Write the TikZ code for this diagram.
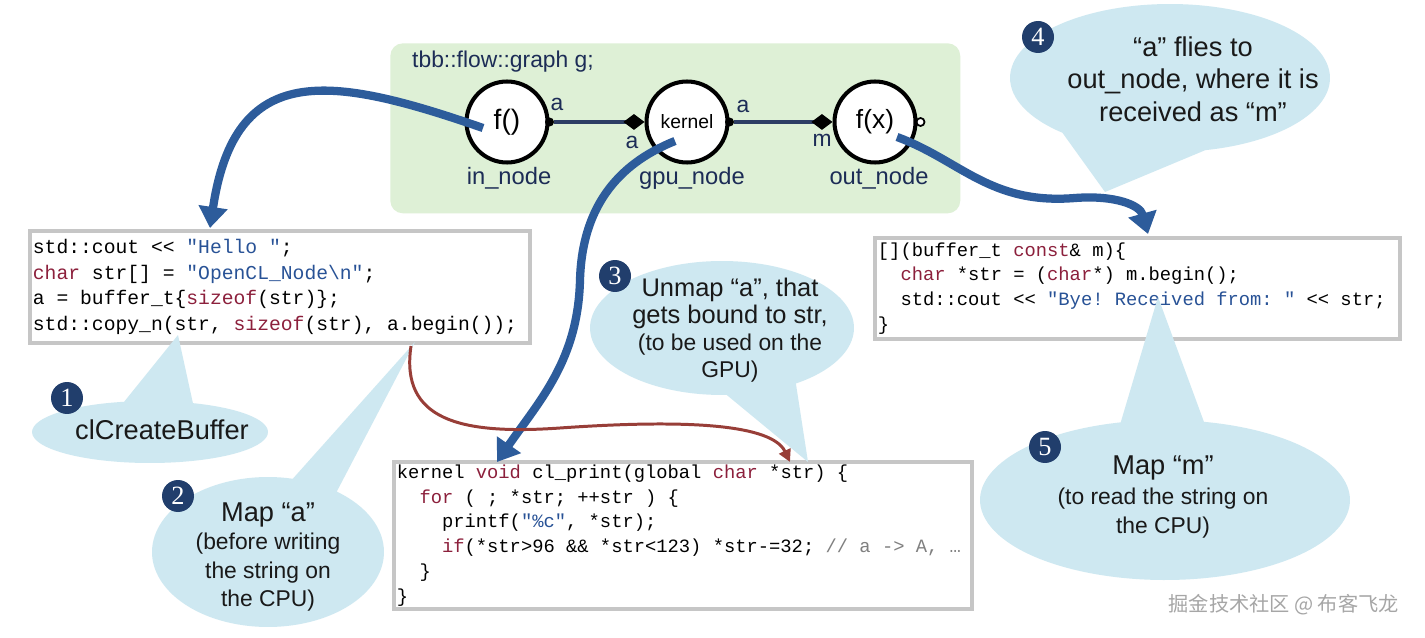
\documentclass[tikz,border=0pt]{standalone}
\usepackage{fontspec}
\setmainfont{Liberation Sans}
\setmonofont{Liberation Mono}
\newfontfamily\numfont{Liberation Serif}
\newfontfamily\cjkfont{Noto Sans CJK SC}
\usetikzlibrary{arrows.meta, shapes.callouts, shapes.geometric}

\definecolor{graphbg}{RGB}{222,240,214}
\definecolor{bubble}{RGB}{206,232,241}
\definecolor{badge}{RGB}{33,62,108}
\definecolor{labelblue}{RGB}{28,44,86}
\definecolor{edgeblue}{RGB}{45,62,100}
\definecolor{arrowblue}{RGB}{45,92,155}
\definecolor{arrowred}{RGB}{152,62,56}
\definecolor{codekw}{RGB}{140,32,60}
\definecolor{codestr}{RGB}{40,82,150}
\definecolor{codecmt}{RGB}{128,128,128}

\newcommand\kw[1]{\textcolor{codekw}{#1}}
\newcommand\strg[1]{\textcolor{codestr}{#1}}
\newcommand\cmt[1]{\textcolor{codecmt}{#1}}
\newcommand\cl[1]{{\spaceskip=0.6em\relax\xspaceskip=0.6em\relax#1}}
\newcommand\subline{\fontsize{13}{16}\selectfont}

\tikzset{
  flownode/.style={circle, draw=black, line width=2.3pt, fill=white,
    minimum size=1.62cm, inner sep=0pt},
  nodelabel/.style={text=labelblue, font=\fontsize{13.5}{16}\selectfont},
  portlabel/.style={text=labelblue, font=\fontsize{13}{15}\selectfont, inner sep=0pt},
  portdot/.style={circle, fill=black, inner sep=0pt, minimum size=0.18cm},
  openport/.style={circle, draw=black, line width=1pt, fill=white, inner sep=0pt, minimum size=0.16cm},
  edge/.style={draw=edgeblue, line width=1.9pt, -{Diamond[length=12pt,width=9pt,color=black]}},
  codebox/.style={draw=gray!45, line width=2.2pt, fill=white, anchor=north west,
    align=left, inner xsep=0.06cm, inner ysep=0pt},
  bubble/.style={ellipse callout, fill=bubble, draw=none},
  bubbletext/.style={align=center, text=black!90, font=\fontsize{15.5}{17}\selectfont},
  badge/.style={circle, fill=badge, text=white, font=\numfont\fontsize{15}{15}\selectfont,
    minimum size=0.64cm, inner sep=0pt},
  bluearrow/.style={draw=arrowblue, line width=4.7pt, -{Triangle[length=12pt,width=16pt]}},
  redarrow/.style={draw=arrowred, line width=1.7pt, -{Triangle[length=7pt,width=7pt]}}
}

\begin{document}
\begin{tikzpicture}[x=0.02cm, y=-0.02cm]
  \fill[white] (0,0) rectangle (1425,638);
  \useasboundingbox (0,0) rectangle (1425,638);

  % the flow graph
  \node[fill=graphbg, rounded corners=0.25cm, minimum width=11.4cm, minimum height=3.4cm,
    anchor=north west] (graph) at (390,43) {};
  \node[anchor=west, text=labelblue, font=\fontsize{13}{15}\selectfont] (title) at (406,62) {tbb::flow::graph g;};

  \node[flownode, font=\fontsize{16}{16}\selectfont] (in) at (507,122) {f()};
  \node[flownode, font=\fontsize{11}{11}\selectfont] (gpu) at (687,122) {kernel};
  \node[flownode, font=\fontsize{15}{15}\selectfont] (out) at (875,122) {f(x)};
  \node[nodelabel] (inlbl) at (509,178) {in\_node};
  \node[nodelabel] (gpulbl) at (692,178) {gpu\_node};
  \node[nodelabel] (outlbl) at (879,178) {out\_node};

  \node[portdot] (inport) at (in.east) {};
  \node[portdot] (gpuport) at (gpu.east) {};
  \node[openport] (outport) at ([xshift=0.06cm]out.east) {};
  \draw[edge] (inport) -- (gpu.west);
  \draw[edge] (gpuport) -- (out.west);
  \node[portlabel] (pa1) at (557,104) {a};
  \node[portlabel] (pa2) at (632,142) {a};
  \node[portlabel] (pa3) at (743,106) {a};
  \node[portlabel] (pm) at (822,140) {m};

  % code boxes
  \node[codebox, text width=9.88cm, minimum height=2.24cm,
    font=\ttfamily\fontsize{11.2}{14.5}\selectfont] (hostcode) at (28,229) {%
    \cl{std::cout << \strg{"Hello "};}\\
    \cl{\kw{char} str[] = \strg{"OpenCL\_Node\textbackslash n"};}\\
    \cl{a = buffer\_t\{\kw{sizeof}(str)\};}\\
    \cl{std::copy\_n(str, \kw{sizeof}(str), a.begin());}};
  \node[codebox, text width=10.38cm, minimum height=2.02cm,
    font=\ttfamily\fontsize{10.7}{14}\selectfont] (lambda) at (873,236) {%
    \cl{{[]}(buffer\_t \kw{const}\& m)\{}\\
    \cl{\phantom{xx}\kw{char} *str = (\kw{char}*) m.begin();}\\
    \cl{\phantom{xx}std::cout << \strg{"Bye! Received from: "} << str;}\\
    \}};
  \node[codebox, text width=11.44cm, minimum height=2.94cm,
    font=\ttfamily\fontsize{10.7}{14.1}\selectfont] (kernel) at (392,460) {%
    \cl{kernel \kw{void} cl\_print(global \kw{char} *str) \{}\\
    \cl{\phantom{xx}\kw{for} ( ; *str; ++str ) \{}\\
    \cl{\phantom{xxxx}printf(\strg{"\%c"}, *str);}\\
    \cl{\phantom{xxxx}\kw{if}(*str>96 \&\& *str<123) *str-=32; \cmt{// a -> A, …}}\\
    \cl{\phantom{xx}\}}\\
    \}};

  % callouts
  \node[bubble, minimum width=4.72cm, minimum height=1.24cm,
    callout absolute pointer={(178,335)}, callout pointer arc=34] (b1) at (150,432) {};
  \node[bubble, minimum width=4.64cm, minimum height=3cm,
    callout absolute pointer={(415,342)}, callout pointer arc=24] (b2) at (268,552) {};
  \node[bubble, minimum width=5.28cm, minimum height=2.68cm,
    callout absolute pointer={(808,462)}, callout pointer arc=32] (b3) at (722,328) {};
  \node[bubble, minimum width=6.4cm, minimum height=2.96cm,
    callout absolute pointer={(1105,192)}, callout pointer arc=55] (b4) at (1170,78) {};
  \node[bubble, minimum width=7.4cm, minimum height=3.2cm,
    callout absolute pointer={(1158,297)}, callout pointer arc=26] (b5) at (1165,500) {};

  \node[bubbletext] (t1) at (162,430) {clCreateBuffer};
  \node[bubbletext, font=\fontsize{15.5}{16.2}\selectfont] (t2) at (268,557)
    {Map “a”\\{\subline(before writing}\\{\subline the string on}\\{\subline the CPU)}};
  \node[bubbletext, font=\fontsize{14.5}{15.4}\selectfont] (t3) at (730,330)
    {Unmap “a”, that\\gets bound to str,\\{\subline(to be used on the}\\{\subline GPU)}};
  \node[bubbletext, font=\fontsize{15.5}{18.5}\selectfont] (t4) at (1193,79)
    {“a” flies to\\out\_node, where it is\\received as “m”};
  \node[bubbletext] (t5) at (1163,497)
    {Map “m”\\{\subline(to read the string on}\\{\subline the CPU)}};

  \node[badge] (n1) at (67,398) {1};
  \node[badge] (n2) at (178,496) {2};
  \node[badge] (n3) at (615,276) {3};
  \node[badge] (n4) at (1038,37) {4};
  \node[badge] (n5) at (1045,447) {5};

  % arrows
  \coordinate (s1) at (483,128);
  \coordinate (e1) at (210,228);
  \draw[bluearrow] (s1) .. controls (330,75) and (235,60) .. (e1);
  \coordinate (s2) at (675,141);
  \coordinate (m2) at (580,280);
  \coordinate (e2) at (497,462);
  \draw[bluearrow] (s2) .. controls (615,165) and (582,210) .. (m2)
    .. controls (578,360) and (540,400) .. (e2);
  \coordinate (s3) at (897,137);
  \coordinate (m3) at (1075,198);
  \coordinate (e3) at (1148,234);
  \draw[bluearrow] (s3) .. controls (960,160) and (990,205) .. (m3)
    .. controls (1115,195) and (1140,205) .. (e3);
  \coordinate (s4) at (411,346);
  \coordinate (m4) at (560,428);
  \coordinate (e4) at (790,462);
  \draw[redarrow] (s4) .. controls (400,420) and (460,435) .. (m4)
    .. controls (660,421) and (770,420) .. (e4);

  \node[anchor=east, text=gray!70, font=\cjkfont\fontsize{11.5}{13}\selectfont] (mark) at (1405,605)
    {掘金技术社区 @ 布客飞龙};
\end{tikzpicture}
\end{document}
